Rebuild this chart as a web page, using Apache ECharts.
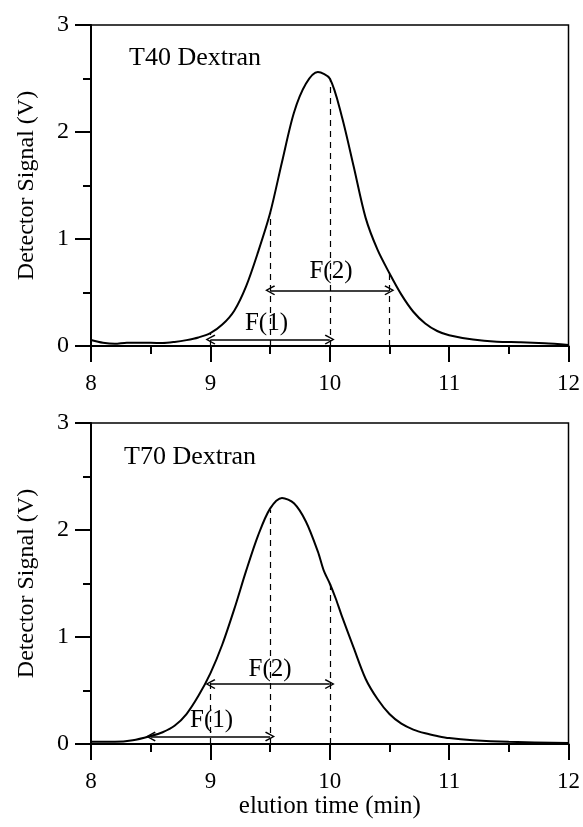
<!DOCTYPE html>
<html>
<head>
<meta charset="utf-8">
<script src="https://cdn.jsdelivr.net/npm/echarts@6/dist/echarts.min.js"></script>
<style>html,body{margin:0;padding:0;background:#fff}#c{width:583px;height:827px}</style>
</head>
<body>
<div id="c"></div>
<script>
// ---- data ----
const t40X = [8.0, 8.1, 8.2, 8.3, 8.4, 8.5, 8.6, 8.7, 8.8, 8.9, 9.0, 9.1, 9.2, 9.3, 9.4, 9.5, 9.6, 9.7, 9.8, 9.9, 10.0, 10.1, 10.2, 10.3, 10.4, 10.5, 10.6, 10.7, 10.8, 10.9, 11.0, 11.2, 11.4, 11.6, 11.8, 12.0];
const t40Y = [0.056, 0.03, 0.02, 0.03, 0.03, 0.03, 0.028, 0.038, 0.055, 0.08, 0.12, 0.2, 0.33, 0.56, 0.88, 1.24, 1.72, 2.18, 2.45, 2.56, 2.50, 2.15, 1.68, 1.2, 0.9, 0.68, 0.48, 0.32, 0.21, 0.14, 0.10, 0.06, 0.04, 0.035, 0.025, 0.01];
const t70X = [8.0, 8.2, 8.35, 8.5, 8.6, 8.7, 8.8, 8.9, 9.0, 9.1, 9.2, 9.3, 9.4, 9.5, 9.6, 9.7, 9.8, 9.9, 9.95, 10.0, 10.05, 10.1, 10.2, 10.3, 10.4, 10.5, 10.6, 10.7, 10.8, 10.9, 11.0, 11.2, 11.5, 12.0];
const t70Y = [0.02, 0.02, 0.035, 0.075, 0.11, 0.17, 0.28, 0.45, 0.66, 0.93, 1.26, 1.62, 1.95, 2.20, 2.30, 2.25, 2.08, 1.80, 1.62, 1.50, 1.36, 1.20, 0.90, 0.61, 0.42, 0.28, 0.19, 0.135, 0.10, 0.075, 0.055, 0.035, 0.02, 0.01];

const xTicks = [8, 9, 10, 11, 12];
const yTicks = [0, 1, 2, 3];
const titles = ['T40 Dextran', 'T70 Dextran'];
const yName = 'Detector Signal (V)';
const xName = 'elution time (min)';

// annotations: [x0, x1, y] arrows; dashed verticals [x, top]; labels [x, y, text]
const t40Arrows = [[9, 10, 0.06], [9.5, 10.5, 0.52]];
const t40Dashes = [[9, 0.12], [9.5, 1.24], [10, 2.50], [10.5, 0.68]];
const t40Labels = [[9.47, 0.21, 'F(1)'], [10.01, 0.70, 'F(2)']];
const t70Arrows = [[8.5, 9.5, 0.07], [9, 10, 0.56]];
const t70Dashes = [[9, 0.57], [9.5, 2.19], [10, 1.50]];
const t70Labels = [[9.01, 0.22, 'F(1)'], [9.5, 0.70, 'F(2)']];

// ---- chart ----
const FONT = '"Liberation Serif", "Times New Roman", serif';
const chev = 'path://M0,0 L6,10 L4.6,11 L0,3 L-4.6,11 L-6,10 Z';

function xAx(i, withName) {
  return {
    type: 'value', gridIndex: i, min: 8, max: 12, interval: 1,
    axisLine: {show: true, onZero: false, lineStyle: {color: '#000', width: 2}},
    axisTick: {show: true, inside: false, length: 16, lineStyle: {color: '#000', width: 2}},
    minorTick: {show: true, splitNumber: 2, length: 8, lineStyle: {color: '#000', width: 2}},
    splitLine: {show: false},
    axisLabel: {color: '#000', fontFamily: FONT, fontSize: 23, margin: 26,
      formatter: v => xTicks.includes(v) ? String(v) : ''},
    name: withName ? xName : '', nameLocation: 'middle', nameGap: 48,
    nameTextStyle: {color: '#000', fontFamily: FONT, fontSize: 25}
  };
}
function yAx(i) {
  return {
    type: 'value', gridIndex: i, min: 0, max: 3, interval: 1,
    axisLine: {show: true, onZero: false, lineStyle: {color: '#000', width: 2}},
    axisTick: {show: true, inside: false, length: 16, lineStyle: {color: '#000', width: 2}},
    minorTick: {show: true, splitNumber: 2, length: 8, lineStyle: {color: '#000', width: 2}},
    splitLine: {show: false},
    axisLabel: {color: '#000', fontFamily: FONT, fontSize: 24, margin: 22,
      formatter: v => yTicks.includes(v) ? String(v) : ''},
    name: yName, nameLocation: 'middle', nameGap: 52, nameRotate: 90,
    nameTextStyle: {color: '#000', fontFamily: FONT, fontSize: 24}
  };
}
function curve(i, xs, ys) {
  return {
    type: 'line', xAxisIndex: i, yAxisIndex: i, showSymbol: false, smooth: 0.3,
    lineStyle: {color: '#000', width: 2}, silent: true,
    data: xs.map((x, k) => [x, ys[k]])
  };
}
function annot(i, arrows, dashes) {
  const d = [];
  arrows.forEach(a => d.push([
    {coord: [a[0], a[2]], symbol: chev, symbolSize: [10, 10], lineStyle: {type: 'solid', width: 1.6, color: '#000'}, itemStyle: {color: '#000'}},
    {coord: [a[1], a[2]], symbol: chev, symbolSize: [10, 10], itemStyle: {color: '#000'}}
  ]));
  dashes.forEach(a => d.push([
    {coord: [a[0], 0], symbol: 'none', lineStyle: {type: [6, 5], width: 1.2, color: '#000'}},
    {coord: [a[0], a[1]], symbol: 'none'}
  ]));
  return {
    type: 'line', xAxisIndex: i, yAxisIndex: i, data: [], silent: true,
    markLine: {silent: true, animation: false, symbol: 'none', label: {show: false},
      emphasis: {disabled: true}, data: d}
  };
}
function labels(i, arr) {
  return {
    type: 'scatter', xAxisIndex: i, yAxisIndex: i, symbolSize: 1, silent: true,
    itemStyle: {color: 'rgba(0,0,0,0)'},
    data: arr.map(a => [a[0], a[1], a[2]]),
    label: {show: true, position: 'inside', formatter: p => p.data[2],
      color: '#000', textBorderWidth: 0, textBorderColor: 'transparent', opacity: 1,
      fontFamily: FONT, fontSize: 25}
  };
}

const chart = echarts.init(document.getElementById('c'), null, {renderer: 'canvas'});
chart.setOption({
  animation: false,
  backgroundColor: '#fff',
  title: [
    {text: titles[0], left: 124, top: 40, textStyle: {color: '#000', fontFamily: FONT, fontSize: 26, fontWeight: 'normal'}},
    {text: titles[1], left: 119, top: 439, textStyle: {color: '#000', fontFamily: FONT, fontSize: 26, fontWeight: 'normal'}}
  ],
  grid: [
    {left: 91, right: 13, top: 25, height: 321, show: true, borderColor: '#000', borderWidth: 1.5, backgroundColor: 'transparent'},
    {left: 91, right: 13, top: 423, height: 321, show: true, borderColor: '#000', borderWidth: 1.5, backgroundColor: 'transparent'}
  ],
  xAxis: [xAx(0, false), xAx(1, true)],
  yAxis: [yAx(0), yAx(1)],
  series: [
    curve(0, t40X, t40Y), annot(0, t40Arrows, t40Dashes), labels(0, t40Labels),
    curve(1, t70X, t70Y), annot(1, t70Arrows, t70Dashes), labels(1, t70Labels)
  ]
});
</script>
</body>
</html>
